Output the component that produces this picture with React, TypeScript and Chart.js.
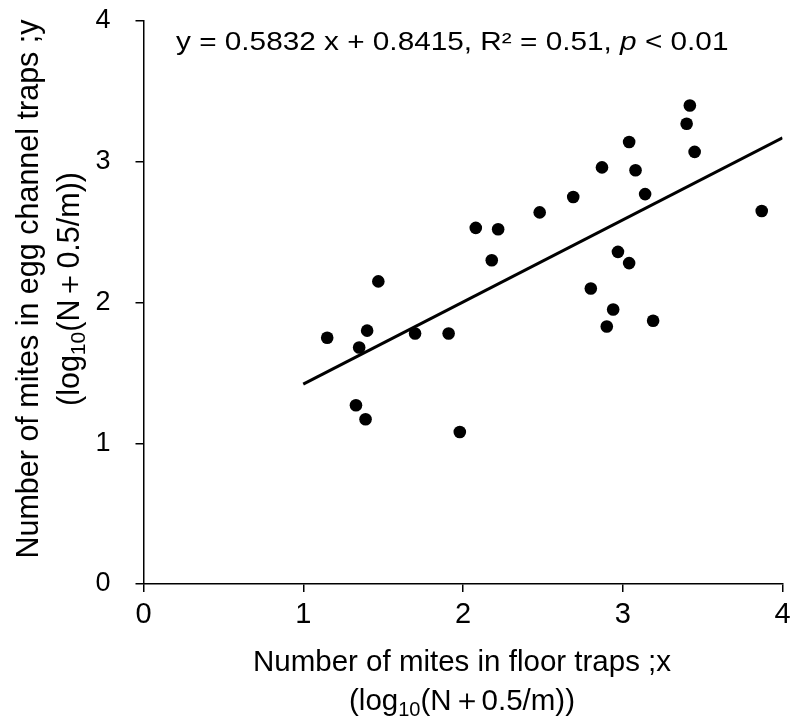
import React, { useEffect, useRef } from "react";
import { Chart, registerables } from "chart.js";

Chart.register(...registerables);

// Observed data (log10(N + 0.5/m))
const floorX = [
  3.42, 3.40, 3.45, 3.04, 3.08, 2.87, 3.14, 2.69, 2.48, 3.87,
  2.08, 2.22, 2.18, 2.97, 3.04, 2.80, 2.94, 2.90, 3.19, 1.47,
  1.15, 1.40, 1.35, 1.70, 1.91, 1.33, 1.39, 1.98,
];
const eggY = [
  3.40, 3.27, 3.07, 3.14, 2.94, 2.96, 2.77, 2.75, 2.64, 2.65,
  2.53, 2.52, 2.30, 2.36, 2.28, 2.10, 1.95, 1.83, 1.87, 2.15,
  1.75, 1.80, 1.68, 1.78, 1.78, 1.27, 1.17, 1.08,
];

// Regression line end points
const trendX = [1.0, 4.0];
const trendY = [1.42, 3.17];

// Axis ticks
const xTicks = [0, 1, 2, 3, 4];
const yTicks = [0, 1, 2, 3, 4];

const equationText = "y = 0.5832 x + 0.8415, R² = 0.51, ";
const equationP = "p";
const equationTail = " < 0.01";
const xTitle1 = "Number of mites in floor traps ;x";
const yTitle1 = "Number of mites in egg channel traps ;y";
const titleLog = "(log";
const titleSub = "10";
const titleRest = "(N\uFF0B0.5/m))";

const FONT = "'Liberation Sans', Arial, sans-serif";

type Part = { text: string; font: string; dy?: number };

function drawParts(ctx: CanvasRenderingContext2D, parts: Part[], x: number, y: number, align: "left" | "center", sx = 1) {
  let total = 0;
  const widths = parts.map((p) => {
    ctx.font = p.font;
    const w = ctx.measureText(p.text).width;
    total += w;
    return w;
  });
  ctx.save();
  ctx.translate(x, y);
  ctx.scale(sx, 1);
  let cx = align === "center" ? -total / 2 : 0;
  ctx.textBaseline = "alphabetic";
  ctx.textAlign = "left";
  parts.forEach((p, i) => {
    ctx.font = p.font;
    ctx.fillText(p.text, cx, p.dy || 0);
    cx += widths[i];
  });
  ctx.restore();
}

const textPlugin = {
  id: "textPlugin",
  afterDraw(chart: any) {
    const ctx: CanvasRenderingContext2D = chart.ctx;
    ctx.save();
    ctx.fillStyle = "#000";
    // Equation
    drawParts(
      ctx,
      [
        { text: equationText, font: `25px ${FONT}` },
        { text: equationP, font: `italic 25px ${FONT}` },
        { text: equationTail, font: `25px ${FONT}` },
      ],
      176,
      50,
      "left",
      1.19
    );
    const xf = `29.5px ${FONT}`;
    const xs = `20px ${FONT}`;
    const yf = `30.5px ${FONT}`;
    const ys = `21px ${FONT}`;
    // X title
    drawParts(ctx, [{ text: xTitle1, font: xf }], 462, 671, "center");
    drawParts(
      ctx,
      [
        { text: titleLog, font: xf },
        { text: titleSub, font: xs, dy: 6 },
        { text: titleRest, font: xf },
      ],
      462,
      710,
      "center"
    );
    // Y title
    ctx.save();
    ctx.translate(0, 289);
    ctx.rotate(-Math.PI / 2);
    drawParts(ctx, [{ text: yTitle1, font: yf }], 0, 38, "center");
    drawParts(
      ctx,
      [
        { text: titleLog, font: yf },
        { text: titleSub, font: ys, dy: 6 },
        { text: titleRest, font: yf },
      ],
      0,
      79,
      "center"
    );
    ctx.restore();
    ctx.restore();
  },
};

export default function App() {
  const ref = useRef<HTMLCanvasElement | null>(null);
  useEffect(() => {
    document.body.style.margin = "0";
    const canvas = ref.current!;
    const points = floorX.map((x, i) => ({ x, y: eggY[i] }));
    const trend = trendX.map((x, i) => ({ x, y: trendY[i] }));
    const axisCommon = {
      type: "linear" as const,
      min: 0,
      max: 4,
      grid: {
        drawOnChartArea: false,
        drawTicks: true,
        tickLength: 8,
        color: "#000",
        lineWidth: 1.5,
      },
      border: { display: true, color: "#000", width: 1.5 },
    };
    const chart = new Chart(canvas, {
      type: "scatter",
      data: {
        datasets: [
          {
            type: "scatter",
            data: points,
            backgroundColor: "#000",
            borderColor: "#000",
            borderWidth: 0,
            pointRadius: 6.3,
            pointHoverRadius: 6.3,
          },
          {
            type: "line",
            data: trend,
            borderColor: "#000",
            borderWidth: 3,
            pointRadius: 0,
            fill: false,
            showLine: true,
          } as any,
        ],
      },
      options: {
        responsive: false,
        animation: false,
        events: [],
        layout: { padding: { top: 21, right: 8.5, left: 0, bottom: 0 } },
        plugins: { legend: { display: false }, tooltip: { enabled: false } },
        scales: {
          x: {
            ...axisCommon,
            afterBuildTicks: (s: any) => {
              s.ticks = xTicks.map((v) => ({ value: v }));
            },
            afterFit: (s: any) => {
              s.height = 140;
              s.paddingLeft = 0;
              s.paddingRight = 0;
            },
            ticks: { color: "#000", font: { family: FONT, size: 29 }, padding: 6 },
          },
          y: {
            ...axisCommon,
            afterBuildTicks: (s: any) => {
              s.ticks = yTicks.map((v) => ({ value: v }));
            },
            afterFit: (s: any) => {
              s.width = 143.5;
              s.paddingTop = 0;
              s.paddingBottom = 0;
            },
            ticks: { color: "#000", font: { family: FONT, size: 27 }, padding: 25 },
          },
        },
      } as any,
      plugins: [textPlugin],
    });
    return () => chart.destroy();
  }, []);
  return <canvas ref={ref} width={791} height={724} style={{ display: "block" }} />;
}
